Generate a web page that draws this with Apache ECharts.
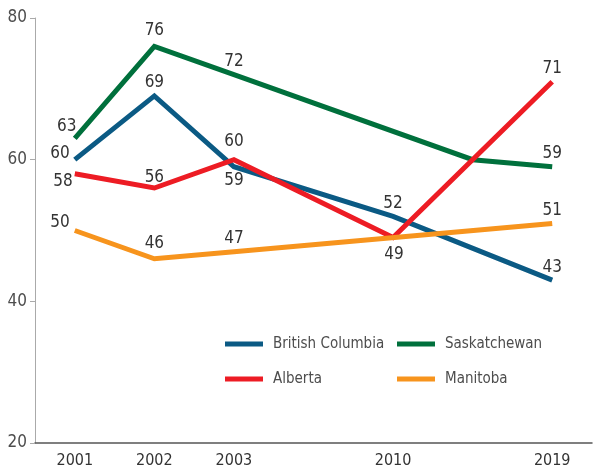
<!DOCTYPE html>
<html>
<head>
<meta charset="utf-8">
<script src="https://cdn.jsdelivr.net/npm/echarts@6/dist/echarts.min.js"></script>
<style>
html,body{margin:0;padding:0;background:#fff;}
#chart{width:594px;height:476px;}
</style>
</head>
<body>
<div id="chart"></div>
<script>
// Data
const categories = ['2001', '2002', '2003', '', '2010', '', '2019'];
const yTicks = [20, 40, 60, 80];
const britishColumbia = [60, 69, 59, null, 52, null, 43];
const saskatchewan   = [63, 76, 72, null, null, 60, 59];
const alberta        = [58, 56, 60, null, 49, null, 71];
const manitoba       = [50, 46, 47, null, null, null, 51];

// Label placement per point (style, not data)
const labelPlacement = {
  'British Columbia': [['left',[0,-6]],['top',[0,0]],['bottom',[0,0]],null,['top',[0,1]],null,['top',[0,1]]],
  'Saskatchewan':     [['top',[-8,2]],['top',[0,-2]],['top',[0,0]],null,null,'hide',['top',[0,0]]],
  'Alberta':          [['left',[3,8]],['top',[0,3]],['top',[0,-5]],null,['bottom',[1,3]],null,['top',[0,0]]],
  'Manitoba':         [['left',[0,-8]],['top',[0,-2]],['top',[0,0]],null,null,null,['top',[0,1]]]
};

const FONT = '"Liberation Sans Narrow", "DejaVu Sans Condensed", sans-serif';

function buildData(name, values) {
  return values.map((v, i) => {
    const p = labelPlacement[name][i];
    if (v === null) return null;
    if (p === 'hide' || p === null) return { value: v, label: { show: false } };
    return { value: v, label: { show: true, position: p[0], offset: p[1] } };
  });
}

const seriesDefs = [
  { name: 'British Columbia', values: britishColumbia, color: '#0b5a84' },
  { name: 'Saskatchewan', values: saskatchewan, color: '#00703c' },
  { name: 'Alberta', values: alberta, color: '#ed1c24' },
  { name: 'Manitoba', values: manitoba, color: '#f7941d' }
];

const chart = echarts.init(document.getElementById('chart'), null, { renderer: 'canvas' });

const legendCommon = {
  orient: 'vertical',
  top: 329,
  itemWidth: 38, itemHeight: 5, itemGap: 15,
  icon: 'rect',
  textStyle: { fontFamily: FONT, fontSize: 15, color: '#4d4d4d', lineHeight: 20, padding: [0,0,0,5] }
};

chart.setOption({
  animation: false,
  backgroundColor: '#fff',
  grid: { left: 35, right: 2, top: 18, bottom: 33, containLabel: false },
  legend: [
    Object.assign({ data: ['British Columbia', 'Alberta'], left: 220 }, legendCommon),
    Object.assign({ data: ['Saskatchewan', 'Manitoba'], left: 392 }, legendCommon)
  ],
  xAxis: {
    type: 'category',
    data: categories,
    boundaryGap: true,
    axisLine: { show: true, lineStyle: { color: '#555', width: 1.5 } },
    axisTick: { show: false },
    axisLabel: { fontFamily: FONT, fontSize: 16, color: '#333', margin: 10, interval: 0 },
    splitLine: { show: false }
  },
  yAxis: {
    type: 'value',
    min: yTicks[0], max: yTicks[yTicks.length - 1], interval: 20,
    axisLine: { show: true, lineStyle: { color: '#aaa', width: 1 } },
    axisTick: { show: true, length: 5, lineStyle: { color: '#aaa' } },
    axisLabel: { fontFamily: FONT, fontSize: 17, color: '#4d4d4d', margin: 8 },
    splitLine: { show: false }
  },
  series: seriesDefs.map(s => ({
    name: s.name,
    type: 'line',
    data: buildData(s.name, s.values),
    connectNulls: true,
    symbol: 'circle',
    symbolSize: 0,
    showSymbol: true,
    color: s.color,
    lineStyle: { color: s.color, width: 5, cap: 'butt', join: 'miter' },
    itemStyle: { color: s.color },
    label: { show: true, fontFamily: FONT, fontSize: 17, color: '#333', distance: 5 },
    emphasis: { disabled: true }
  }))
});
</script>
</body>
</html>
